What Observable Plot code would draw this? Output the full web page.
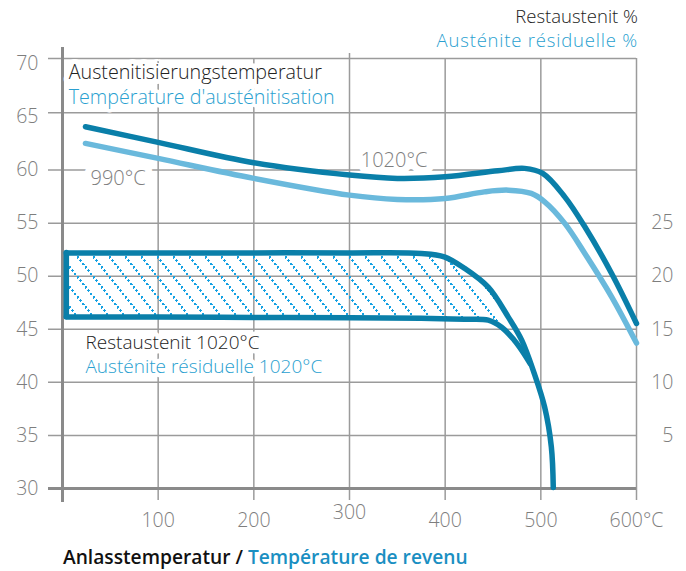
<!DOCTYPE html>
<html>
<head>
<meta charset="utf-8">
<script src="https://cdn.jsdelivr.net/npm/d3@7"></script>
<script src="https://cdn.jsdelivr.net/npm/@observablehq/plot@0.6"></script>
<style>
  body { margin: 0; background: #fff; font-family: "Open Sans", sans-serif; }
  #wrap { position: relative; width: 686px; height: 571px; overflow: hidden; }
  #head { position: absolute; top: 4px; right: 48px; text-align: right; font-size: 18.5px; font-weight: 300; line-height: 23.5px; }
  #cap { position: absolute; left: 63px; top: 543px; font-size: 19.2px; font-weight: 600; line-height: 28px; white-space: nowrap; }
</style>
</head>
<body>
<div id="wrap">
  <div id="chart"></div>
  <div id="head"><div style="color:#222">Restaustenit %</div><div style="color:#2a9fd0;letter-spacing:0.8px">Austénite résiduelle %</div></div>
  <div id="cap"><span style="color:#111">Anlasstemperatur / </span><span style="color:#1a8fc2">Température de revenu</span></div>
</div>
<script>
// ---- data ----
const xTicks = [100, 200, 300, 400, 500, 600];
const yTicks = [30, 35, 40, 45, 50, 55, 60, 65, 70];
const raTicks = [5, 10, 15, 20, 25];

// hardness (HRC) vs tempering temperature
const temp1020 = [24, 100, 200, 300, 350, 400, 455, 483, 502, 525, 546, 574, 600];
const hrc1020  = [63.78, 62.42, 60.64, 59.53, 59.22, 59.37, 59.93, 60.15, 59.69, 57.48, 54.66, 50.26, 45.55];
const temp990  = [24, 100, 200, 300, 350, 400, 441, 466, 490, 504, 525, 546, 574, 600];
const hrc990   = [62.33, 61.02, 59.22, 57.64, 57.24, 57.33, 57.95, 58.11, 57.8, 57.01, 54.98, 52.15, 48.06, 43.7];

// retained austenite (%) band, 1020°C
const raUpperT = [4, 100, 200, 300, 375, 399, 420, 445, 466, 480, 493, 504, 511, 513];
const raUpperV = [22.2, 22.2, 22.2, 22.2, 22.15, 21.83, 20.76, 18.97, 16.15, 13.98, 10.87, 7.66, 3.9, 0.1];
const raLowerT = [4, 100, 200, 300, 375, 420, 445, 459, 472, 481, 489];
const raLowerV = [16.17, 16.15, 16.12, 16.08, 16.05, 15.95, 15.86, 15.2, 14.0, 12.9, 11.75];

const legendLines = ["Austenitisierungstemperatur", "Température d'austénitisation"];
const raLines = ["Restaustenit 1020°C", "Austénite résiduelle 1020°C"];
const curveLabels = ["1020°C", "990°C"];

// ---- styling ----
const dark = "#0a7fa9", light = "#6ab9dc", hatchCol = "#16a2e2";
const gridCol = "#9b9b9b", axisCol = "#8a8a8a", tickText = "#7e7e7e";
const blackText = "#222", blueText = "#2a9fd0";
const raOffset = 30; // right axis 0 % sits on left-axis 30

const c1020 = temp1020.map((t, i) => ({t, v: hrc1020[i]}));
const c990 = temp990.map((t, i) => ({t, v: hrc990[i]}));
const raUp = raUpperT.map((t, i) => ({t, v: raUpperV[i] + raOffset}));
const raLo = raLowerT.map((t, i) => ({t, v: raLowerV[i] + raOffset}));
const band = raLowerT.map((t, i) => ({x1: t, y1: raLowerV[i] + raOffset, x2: raUpperT[i], y2: raUpperV[i] + raOffset}));

// the original's two top grid bands (60–65, 65–70) are drawn a little taller than the others
const yStretch = v => v <= 60 ? v : v <= 65 ? 60 + (v - 60) * 1.079 : 65.395 + (v - 65) * 1.024;

const FS = 19;
const halo = {stroke: "white", strokeWidth: 11, strokeLinejoin: "round", fontSize: FS, fontWeight: 300};

const svg = Plot.plot({
  width: 686, height: 540,
  marginLeft: 62, marginRight: 50, marginTop: 58, marginBottom: 52,
  x: {domain: [0, 600], label: null},
  y: {transform: yStretch, domain: [30, yStretch(70)], label: null},
  style: {fontFamily: "'Open Sans', sans-serif", fontSize: "19px", background: "white"},
  marks: [
    // grid
    Plot.ruleY(yTicks.filter(d => d > 30), {stroke: gridCol, strokeWidth: 1.5, insetLeft: -14}),
    Plot.ruleX(xTicks.filter(d => d !== 300), {stroke: gridCol, strokeWidth: 1.5, insetBottom: -12}),
    Plot.ruleX([300], {stroke: gridCol, strokeWidth: 1.5, insetBottom: -12, insetTop: -5}),
    // axis lines
    Plot.ruleY([30], {stroke: axisCol, strokeWidth: 3, insetLeft: -14}),
    Plot.ruleX([0], {stroke: axisCol, strokeWidth: 3, insetTop: -11, insetBottom: -14}),
    // axis labels
    Plot.axisY({ticks: yTicks, tickSize: 0, tickPadding: 24, fontSize: 19.5, fontWeight: 300, fill: tickText, label: null}),
    Plot.axisY({anchor: "right", ticks: raTicks.map(d => d + raOffset), tickFormat: d => String(d - raOffset),
      tickSize: 0, tickPadding: 37, textAnchor: "end", fontSize: 19.5, fontWeight: 300, fill: tickText, label: null}),
    Plot.axisX({ticks: xTicks.filter(d => d !== 300), tickSize: 0, tickPadding: 25,
      tickFormat: d => d === 600 ? "600°C" : String(d), fontSize: 19.5, fontWeight: 300, fill: tickText, label: null}),
    Plot.axisX({ticks: [300], tickSize: 0, tickPadding: 17, fontSize: 19.5, fontWeight: 300, fill: tickText, label: null}),
    // annotations (white halo hides the grid behind them)
    Plot.text([legendLines[0]], {x: 6.5, y: 68.7, text: d => d, textAnchor: "start", fill: blackText, ...halo, fontSize: 19.7, strokeWidth: 10}),
    Plot.text([legendLines[1]], {x: 6.5, y: 66.44, text: d => d, textAnchor: "start", fill: blueText, ...halo, fontSize: 19.7, strokeWidth: 7}),
    Plot.text([raLines[0]], {x: 24, y: 43.68, text: d => d, textAnchor: "start", fill: blackText, ...halo, strokeWidth: 9}),
    Plot.text([raLines[1]], {x: 24, y: 41.43, text: d => d, textAnchor: "start", fill: blueText, ...halo, strokeWidth: 9}),
    Plot.text([curveLabels[0]], {x: 346.6, y: 60.82, text: d => d, fill: tickText, ...halo, fontSize: 20, strokeWidth: 14}),
    Plot.text([curveLabels[1]], {x: 58.1, y: 59.16, text: d => d, fill: tickText, ...halo, fontSize: 20, strokeWidth: 14}),
    // retained austenite band
    Plot.area(band, {x1: "x1", y1: "y1", x2: "x2", y2: "y2", fill: "url(#hatch)", curve: "catmull-rom"}),
    Plot.ruleX([band[0]], {x: "x1", y1: "y1", y2: "y2", stroke: dark, strokeWidth: 5.5, strokeLinecap: "round"}),
    Plot.line(raLo, {x: "t", y: "v", stroke: dark, strokeWidth: 5.5, curve: "catmull-rom", strokeLinecap: "round"}),
    Plot.line(raUp, {x: "t", y: "v", stroke: dark, strokeWidth: 5.5, curve: "catmull-rom", strokeLinecap: "round"}),
    // hardness curves
    Plot.line(c990, {x: "t", y: "v", stroke: light, strokeWidth: 5.5, curve: "catmull-rom", strokeLinecap: "round"}),
    Plot.line(c1020, {x: "t", y: "v", stroke: dark, strokeWidth: 5.5, curve: "catmull-rom", strokeLinecap: "round"})
  ]
});

d3.select(svg).insert("defs", ":first-child").html(
  `<pattern id="hatch" patternUnits="userSpaceOnUse" width="16" height="20">
     <path d="M-16,-20L32,40M-32,-20L16,40M0,-20L48,40" stroke="${hatchCol}" stroke-width="2.2" stroke-dasharray="2.13 2.13" fill="none" shape-rendering="crispEdges"/>
   </pattern>`
);

document.getElementById("chart").appendChild(svg);
</script>
</body>
</html>
